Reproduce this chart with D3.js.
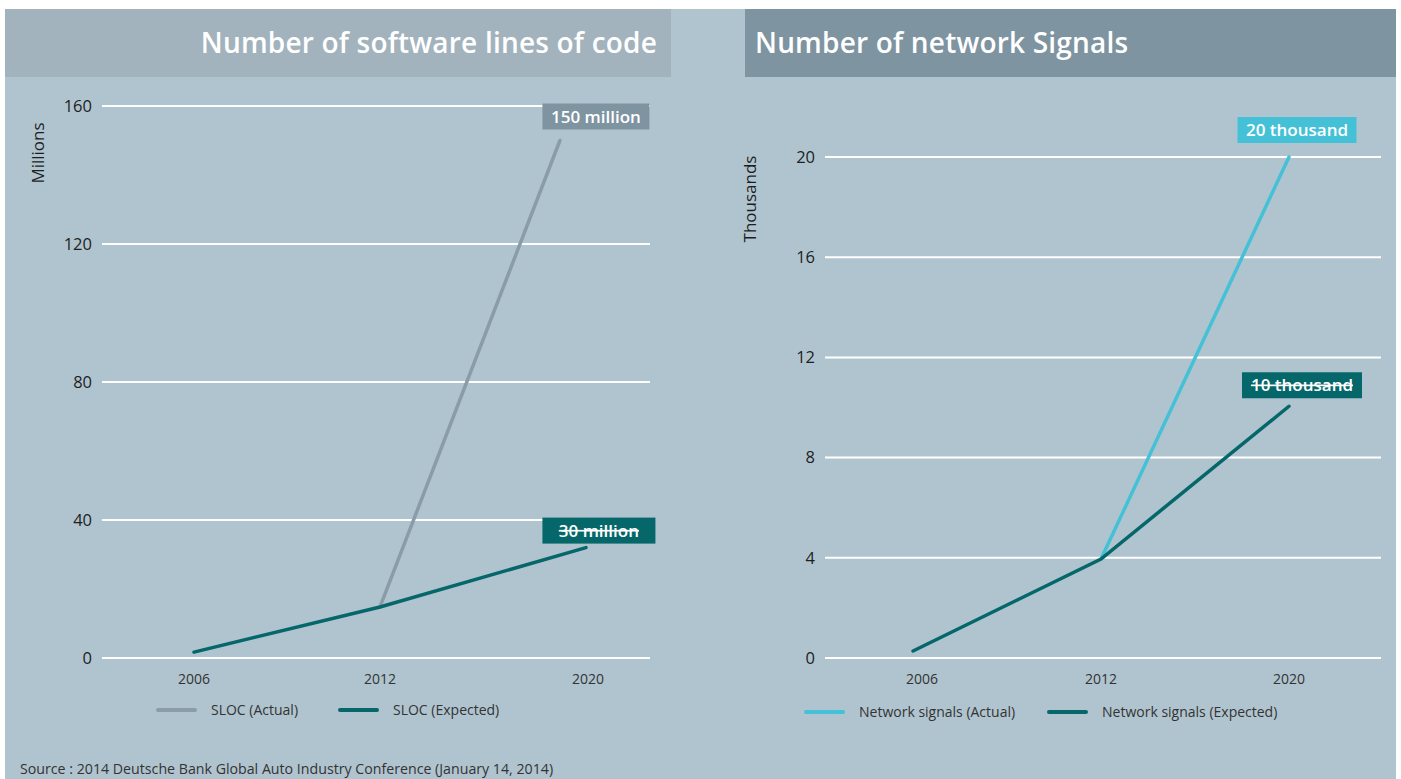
<!DOCTYPE html>
<html>
<head>
<meta charset="utf-8">
<script src="https://cdn.jsdelivr.net/npm/d3@7"></script>
<style>
  body { margin: 0; background: #fff; }
  text { font-family: "Open Sans", "Noto Sans", sans-serif; }
</style>
</head>
<body>
<div id="chart"></div>
<script>
// categories and values
const years = ["2006", "2012", "2020"];

const slocTicks = [0, 40, 80, 120, 160];
const slocExpectedIdx = [0, 1, 1.99];
const slocExpected = [1.7, 14.8, 32];
const slocActualIdx = [1, 1.865];
const slocActual = [14.8, 150];

const signalTicks = [0, 4, 8, 12, 16, 20];
const signalExpectedIdx = [-0.05, 1, 2];
const signalExpected = [0.28, 3.95, 10.05];
const signalActualIdx = [1, 2];
const signalActual = [3.95, 20];

const colActualGrey = "#8a9ca8";
const colExpected = "#05676a";
const colActualCyan = "#45c1d7";

const W = 1401, H = 779;

const svg = d3.select("#chart").append("svg")
	.attr("width", W)
	.attr("height", H);

// panel background
svg.append("rect")
	.attr("x", 5).attr("y", 9)
	.attr("width", 1391).attr("height", H - 9)
	.attr("fill", "#b0c4cf");

// title bands
svg.append("rect").attr("x", 5).attr("y", 9).attr("width", 666).attr("height", 68).attr("fill", "#a2b3bd");
svg.append("rect").attr("x", 745).attr("y", 9).attr("width", 651).attr("height", 68).attr("fill", "#7e94a1");

svg.append("text")
	.attr("x", 657).attr("y", 53)
	.attr("text-anchor", "end")
	.attr("fill", "#fff")
	.style("font-size", "28px")
	.style("font-weight", 600)
	.style("letter-spacing", "0.2px")
	.text("Number of software lines of code");

svg.append("text")
	.attr("x", 755).attr("y", 53)
	.attr("fill", "#fff")
	.style("font-size", "28px")
	.style("font-weight", 600)
	.style("letter-spacing", "0.2px")
	.text("Number of network Signals");

function drawPanel(cfg) {
	const g = svg.append("g");

	const y = d3.scaleLinear().domain(cfg.yDomain).range([658, cfg.yTop]);
	// polylinear index scale, categories are not evenly spaced in the source
	const x = d3.scaleLinear().domain([0, 1, 2]).range(cfg.xStops);

	// gridlines
	g.selectAll(".grid")
		.data(cfg.ticks)
		.enter().append("line")
		.attr("x1", cfg.gridX[0]).attr("x2", cfg.gridX[1])
		.attr("y1", d => y(d)).attr("y2", d => y(d))
		.attr("stroke", "#fff")
		.attr("stroke-width", 2);

	// y tick labels
	g.selectAll(".ytick")
		.data(cfg.ticks)
		.enter().append("text")
		.attr("x", cfg.gridX[0] - 10)
		.attr("y", d => y(d))
		.attr("dy", "0.35em")
		.attr("text-anchor", "end")
		.attr("fill", "#1e1e1e")
		.style("font-size", "16.5px")
		.style("font-weight", 500)
		.text(d => d);

	// x tick labels
	g.selectAll(".xtick")
		.data(years)
		.enter().append("text")
		.attr("x", (d, i) => x(i))
		.attr("y", 684)
		.attr("text-anchor", "middle")
		.attr("fill", "#333")
		.style("font-size", "14px")
		.text(d => d);

	// axis title
	g.append("text")
		.attr("transform", "translate(" + cfg.yTitlePos[0] + "," + cfg.yTitlePos[1] + ") rotate(-90)")
		.attr("text-anchor", "middle")
		.attr("dy", "0.35em")
		.attr("fill", "#1e1e1e")
		.style("font-size", "17px")
		.style("font-weight", 500)
		.text(cfg.yTitle);

	const line = d3.line()
		.x(d => x(d[0]))
		.y(d => y(d[1]));

	const actualPts = d3.zip(cfg.actualIdx, cfg.actual);
	const expectedPts = d3.zip(cfg.expectedIdx, cfg.expected);

	g.append("path")
		.datum(actualPts)
		.attr("d", line)
		.attr("fill", "none")
		.attr("stroke", cfg.actualColor)
		.attr("stroke-width", 3.5)
		.attr("stroke-linecap", "round");

	g.append("path")
		.datum(expectedPts)
		.attr("d", line)
		.attr("fill", "none")
		.attr("stroke", colExpected)
		.attr("stroke-width", 3.5)
		.attr("stroke-linecap", "round");

	// value boxes at the line ends
	function valueBox(pt, label, fill, dx, dy, w, strike) {
		const cx = x(pt[0]) + dx;
		const cy = y(pt[1]) + dy;
		g.append("rect")
			.attr("x", cx - w / 2).attr("y", cy - 13)
			.attr("width", w).attr("height", 26)
			.attr("fill", fill);
		g.append("text")
			.attr("x", cx).attr("y", cy)
			.attr("dy", "0.36em")
			.attr("text-anchor", "middle")
			.attr("fill", "#fff")
			.style("font-size", "17px")
			.style("font-weight", 600)
			.style("text-decoration", strike ? "line-through" : null)
			.text(label);
	}
	const aEnd = actualPts[actualPts.length - 1];
	const eEnd = expectedPts[expectedPts.length - 1];
	valueBox(aEnd, cfg.actualLabel, cfg.actualColor === colActualGrey ? "#7e94a1" : cfg.actualColor,
		cfg.actualBox[0], cfg.actualBox[1], cfg.actualBox[2], false);
	valueBox(eEnd, cfg.expectedLabel, colExpected,
		cfg.expectedBox[0], cfg.expectedBox[1], cfg.expectedBox[2], true);

	// legend
	const leg = g.append("g");
	cfg.legend.forEach((item, i) => {
		leg.append("line")
			.attr("x1", item.x).attr("x2", item.x + 37)
			.attr("y1", cfg.legendY).attr("y2", cfg.legendY)
			.attr("stroke", i === 0 ? cfg.actualColor : colExpected)
			.attr("stroke-width", 4)
			.attr("stroke-linecap", "round");
		leg.append("text")
			.attr("x", item.x + 53)
			.attr("y", cfg.legendY)
			.attr("dy", "0.35em")
			.attr("fill", "#333")
			.style("font-size", "14px")
			.text(item.label);
	});
}

drawPanel({
	yDomain: [0, 160], yTop: 106, ticks: slocTicks,
	xStops: [194, 380, 588], gridX: [102, 650],
	yTitle: "Millions", yTitlePos: [38, 153],
	actualIdx: slocActualIdx, actual: slocActual, actualColor: colActualGrey,
	expectedIdx: slocExpectedIdx, expected: slocExpected,
	actualLabel: "150 million", actualBox: [36, -24, 107],
	expectedLabel: "30 million", expectedBox: [13, -17, 113],
	legendY: 710,
	legend: [{ x: 158, label: "SLOC (Actual)" }, { x: 340, label: "SLOC (Expected)" }]
});

drawPanel({
	yDomain: [0, 20], yTop: 157, ticks: signalTicks,
	xStops: [922, 1101, 1289], gridX: [825, 1381],
	yTitle: "Thousands", yTitlePos: [750, 199],
	actualIdx: signalActualIdx, actual: signalActual, actualColor: colActualCyan,
	expectedIdx: signalExpectedIdx, expected: signalExpected,
	actualLabel: "20 thousand", actualBox: [8, -27, 119],
	expectedLabel: "10 thousand", expectedBox: [13, -21, 120],
	legendY: 712,
	legend: [{ x: 806, label: "Network signals (Actual)" }, { x: 1049, label: "Network signals (Expected)" }]
});

svg.append("text")
	.attr("x", 20).attr("y", 774)
	.attr("fill", "#333")
	.style("font-size", "14.2px")
	.text("Source : 2014 Deutsche Bank Global Auto Industry Conference (January 14, 2014)");
</script>
</body>
</html>
